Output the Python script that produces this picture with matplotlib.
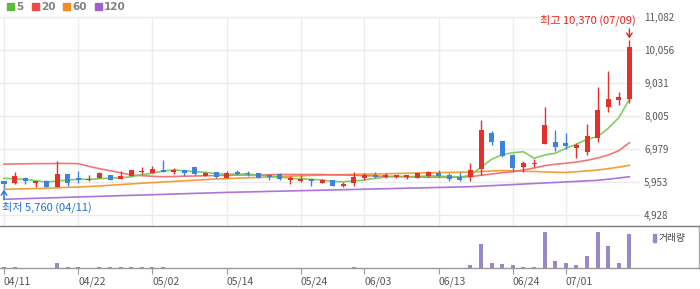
import matplotlib.pyplot as plt
from matplotlib.patches import Rectangle

plt.rcParams['font.family'] = ['Noto Sans CJK KR', 'DejaVu Sans']

# trading days shown (2024)
dates = ['04/11', '04/12', '04/15', '04/16', '04/17', '04/18', '04/19',
         '04/22', '04/23', '04/24', '04/25', '04/26', '04/29', '04/30',
         '05/02', '05/03', '05/07', '05/08', '05/09', '05/10', '05/13',
         '05/14', '05/16', '05/17', '05/20', '05/21', '05/22', '05/23',
         '05/24', '05/27', '05/28', '05/29', '05/30', '05/31',
         '06/03', '06/04', '06/05', '06/07', '06/10', '06/11', '06/12',
         '06/13', '06/14', '06/17', '06/18', '06/19', '06/20', '06/21',
         '06/24', '06/25', '06/26', '06/27', '06/28',
         '07/01', '07/02', '07/03', '07/04', '07/05', '07/08', '07/09']
tick_dates = ['04/11', '04/22', '05/02', '05/14', '05/24', '06/03', '06/13', '06/24', '07/01']

opens = [5985, 5910, 6078, 5930, 5985, 5810, 6200, 6078, 6010, 6070,
         6171, 6060, 6150, 6255, 6245, 6330, 6280, 6320, 6420, 6140,
         6255, 6090, 6270, 6230, 6220, 6150, 6190, 6015, 6000, 6047,
         5930, 6016, 5840, 5930, 6078, 6171, 6100, 6120, 6115, 6090,
         6150, 6225, 6180, 6100, 6100, 6370, 7477, 7228, 6793, 6430,
         6510, 7145, 7197, 7166, 7020, 6896, 7330, 8272, 8510, 8524]
highs = [5990, 6265, 6120, 5954, 6010, 6600, 6200, 6290, 6180, 6260,
         6171, 6290, 6340, 6430, 6450, 6640, 6400, 6335, 6420, 6270,
         6260, 6290, 6335, 6290, 6220, 6210, 6220, 6130, 6171, 6047,
         6047, 6016, 5954, 6265, 6220, 6265, 6220, 6160, 6171, 6265,
         6305, 6327, 6240, 6265, 6535, 7880, 7540, 7228, 6824, 6597,
         6660, 8275, 7570, 7467, 7156, 7757, 8906, 9404, 8760, 10370]
lows = [5760, 5900, 5900, 5790, 5810, 5810, 5830, 5923, 6000, 6070,
        6030, 6060, 6150, 6190, 6245, 6270, 6195, 6150, 6170, 6140,
        6090, 6090, 6170, 6150, 6065, 6025, 6015, 5900, 5945, 5840,
        5930, 5840, 5810, 5840, 6016, 6090, 6070, 6078, 6040, 6078,
        6120, 6120, 5995, 5985, 5995, 6170, 7113, 6730, 6275, 6275,
        6430, 7145, 6926, 6980, 6709, 6793, 7206, 8130, 8356, 8420]
closes = [5900, 6150, 5985, 5945, 5810, 6200, 5923, 6010, 6060, 6235,
          6030, 6150, 6327, 6285, 6360, 6280, 6335, 6245, 6190, 6245,
          6110, 6220, 6200, 6190, 6085, 6110, 6060, 6085, 6060, 5985,
          6025, 5840, 5900, 6120, 6171, 6109, 6171, 6140, 6150, 6225,
          6255, 6150, 6047, 6016, 6327, 7570, 7206, 6762, 6400, 6535,
          6530, 7715, 7052, 7082, 7104, 7384, 8188, 8520, 8595, 10150]
volumes = [40000, 41000, 5000, 5000, 5000, 160000, 40000, 40000, 5000, 40000,
           40000, 40000, 40000, 40000, 40000, 40000, 5000, 5000, 5000, 5000,
           5000, 5000, 5000, 5000, 5000, 5000, 5000, 5000, 5000, 5000,
           5000, 5000, 5000, 40000, 5000, 5000, 5000, 5000, 5000, 5000,
           5000, 5000, 5000, 5000, 80000, 730000, 140000, 110000, 80000, 40000,
           40000, 1100000, 200000, 140000, 80000, 370000, 1100000, 680000, 160000, 1030000]

ma5 = [6068, 6056, 6037, 5994, 5954, 5985, 6016, 6037, 6037, 6056,
       6078, 6078, 6118, 6180, 6224, 6295, 6326, 6305, 6274, 6255,
       6211, 6193, 6202, 6193, 6171, 6140, 6109, 6068, 6047, 6037,
       6016, 5969, 5963, 5985, 6016, 6068, 6109, 6131, 6118, 6131,
       6140, 6140, 6118, 6100, 6171, 6410, 6659, 6802, 6864, 6895,
       6690, 6793, 6846, 7001, 7125, 7281, 7361, 7622, 7952, 8524]
ma20 = [6510, 6515, 6520, 6525, 6525, 6530, 6530, 6525, 6441, 6367,
        6305, 6242, 6171, 6150, 6131, 6118, 6124, 6134, 6140, 6146,
        6156, 6162, 6171, 6171, 6177, 6180, 6187, 6187, 6187, 6187,
        6187, 6177, 6171, 6162, 6152, 6140, 6131, 6121, 6115, 6109,
        6103, 6100, 6100, 6103, 6118, 6162, 6202, 6242, 6274, 6326,
        6389, 6460, 6504, 6535, 6575, 6628, 6699, 6793, 6926, 7175]
ma60 = [5727, 5736, 5742, 5751, 5758, 5773, 5786, 5798, 5814, 5829,
        5851, 5873, 5894, 5916, 5935, 5954, 5972, 5991, 6009, 6028,
        6047, 6059, 6072, 6084, 6097, 6109, 6121, 6134, 6146, 6159,
        6171, 6177, 6183, 6190, 6196, 6202, 6208, 6218, 6224, 6233,
        6240, 6246, 6252, 6258, 6264, 6280, 6295, 6311, 6302, 6289,
        6280, 6267, 6258, 6249, 6274, 6298, 6326, 6367, 6417, 6473]
ma120 = [5416, 5426, 5437, 5447, 5457, 5467, 5478, 5488, 5498, 5508,
         5518, 5529, 5539, 5549, 5559, 5569, 5580, 5590, 5600, 5610,
         5620, 5630, 5638, 5645, 5653, 5661, 5668, 5676, 5684, 5691,
         5699, 5707, 5715, 5722, 5730, 5738, 5745, 5753, 5761, 5768,
         5776, 5784, 5792, 5799, 5807, 5824, 5840, 5857, 5873, 5890,
         5907, 5923, 5940, 5956, 5973, 5990, 6006, 6040, 6078, 6118]

price_ticks = [4928, 5953, 6979, 8005, 9031, 10056, 11082]
ma_labels = ['5', '20', '60', '120']

UP = '#e3302a'
DOWN = '#3b82e2'
ma_colors = ['#72c94f', '#f06868', '#f7921f', '#a565d6']
legend_colors = ['#5dbb3c', '#ef4b4b', '#f6891f', '#a25fd4']
VOL = '#9a87c8'

W, H = 700, 289
fig = plt.figure(figsize=(W / 100, H / 100), dpi=100)


def box(x0, y0, x1, y1):
    # pixel box measured from top-left
    return [x0 / W, 1 - y1 / H, (x1 - x0) / W, (y1 - y0) / H]


ax = fig.add_axes(box(0, 12, 640, 226))
axv = fig.add_axes(box(0, 226, 699, 268))

step = 10.6   # px between candles
first = 4     # px of first candle
n = len(dates)
xs = list(range(n))
ax.set_xlim(-first / step, (640 - first) / step)
axv.set_xlim(-first / step, (699 - first) / step)

ppx = (price_ticks[-1] - price_ticks[0]) / 198.0
ybot = price_ticks[-1] - (226 - 17) * ppx
ax.set_ylim(ybot, price_ticks[-1] + 5 * ppx)

tick_idx = [dates.index(d) for d in tick_dates]

# grid
ax.set_yticks(price_ticks)
ax.set_yticklabels([f'{v:,}' for v in price_ticks])
ax.yaxis.set_ticks_position('right')
ax.tick_params(axis='y', length=0, pad=3, labelsize=7, labelcolor='#555555')
ax.set_xticks([])
ax.grid(axis='y', color='#ebebeb', lw=1)
ax.vlines(tick_idx, ybot, price_ticks[-1], color='#ededed', lw=1, zorder=0)
ax.set_axisbelow(True)
for s in ax.spines.values():
    s.set_visible(False)

# moving averages
for vals, c in zip([ma120, ma60, ma20, ma5], ma_colors[::-1]):
    ax.plot(xs, vals, color=c, lw=1.2, alpha=0.9, zorder=2)

# candles
bw = 5 / step
for i in xs:
    o, h, l, c = opens[i], highs[i], lows[i], closes[i]
    col = UP if c >= o else DOWN
    ax.vlines(i, l, h, color=col, lw=1, zorder=3)
    bh = max(abs(c - o), 1.5 * ppx)
    ax.bar(i, bh, bottom=min(o, c), width=bw, color=col, zorder=4, lw=0)

# high / low markers
hi = max(highs)
hi_i = highs.index(hi)
ax.annotate('', xy=(hi_i, hi + 1.5 * ppx), xytext=(hi_i, hi + 11 * ppx),
            arrowprops=dict(arrowstyle='->,head_length=0.3,head_width=0.2',
                            color='#e8251f', lw=1, shrinkA=0, shrinkB=0),
            annotation_clip=False)
ax.text(hi_i + 0.62, hi + 19.5 * ppx, f'최고 {hi:,} ({dates[hi_i]})',
        ha='right', va='center', fontsize=8, color='#e8251f')

lo = min(lows)
lo_i = lows.index(lo)
ax.annotate('', xy=(lo_i, lo - 1.5 * ppx), xytext=(lo_i, lo - 11 * ppx),
            arrowprops=dict(arrowstyle='->,head_length=0.3,head_width=0.2',
                            color='#1e6fd9', lw=1, shrinkA=0, shrinkB=0),
            annotation_clip=False)
ax.text(lo_i - 0.2, lo - 19 * ppx, f'최저 {lo:,} ({dates[lo_i]})',
        ha='left', va='center', fontsize=8, color='#1e6fd9')

# volume panel
axv.bar(xs, volumes, width=4 / step, color=VOL, lw=0)
axv.set_ylim(0, max(volumes) * 42 / 36)
axv.set_yticks([])
axv.set_xticks(tick_idx)
axv.set_xticklabels(tick_dates)
for lab in axv.get_xticklabels():
    lab.set_ha('left')
axv.tick_params(axis='x', length=4, color='#999999', labelsize=7.5,
                labelcolor='#555555', pad=2)
axv.spines['left'].set_visible(False)
axv.spines['top'].set_color('#7a7a7a')
axv.spines['right'].set_color('#aaaaaa')
axv.spines['bottom'].set_color('#999999')
for s in axv.spines.values():
    s.set_linewidth(1)

fig.patches.append(Rectangle((653 / W, 1 - 242 / H), 3 / W, 8 / H,
                             transform=fig.transFigure, color=VOL))
fig.text(659 / W, 1 - 238 / H, '거래량', fontsize=7, color='#444444', va='center')

# MA legend at top
sq_x = [7, 32, 63, 95]
for x, lab, c in zip(sq_x, ma_labels, legend_colors):
    fig.patches.append(Rectangle((x / W, 1 - 10 / H), 7 / W, 7 / H,
                                 transform=fig.transFigure, color=c))
    fig.text((x + 9) / W, 1 - 6.5 / H, lab, fontsize=7.5, fontweight='bold',
             color='#808080', va='center', family='DejaVu Sans')

fig.savefig('out.png', dpi=100, facecolor='white')
